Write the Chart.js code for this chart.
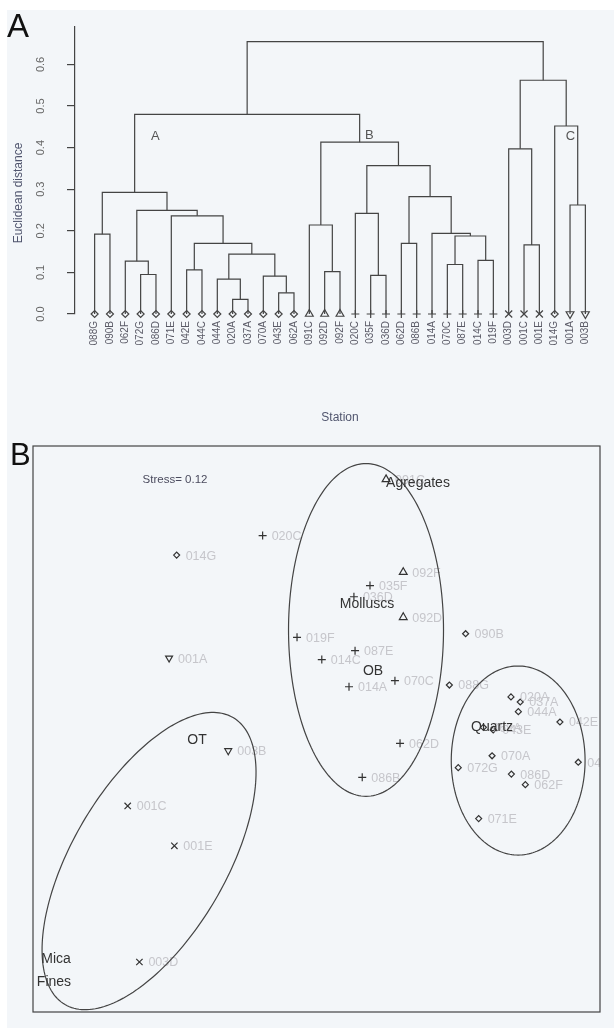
<!DOCTYPE html>
<html>
<head>
<meta charset="utf-8">
<script src="https://cdn.jsdelivr.net/npm/chart.js@4.4.0/dist/chart.umd.min.js"></script>
<style>
  html, body { margin: 0; padding: 0; background: #fff; width: 614px; height: 1028px; overflow: hidden; }
  #bg { position: absolute; left: 7px; top: 10px; width: 607px; height: 1018px; background: #f3f6f9; }
  .box { position: absolute; left: 0; width: 614px; }
  #boxA { top: 0; height: 434px; }
  #boxB { top: 420px; height: 608px; }
</style>
</head>
<body>
<div id="bg"></div>
<div class="box" id="boxA"><canvas id="dendro"></canvas></div>
<div class="box" id="boxB"><canvas id="nmds"></canvas></div>
<script>
Chart.defaults.font.family = "'Liberation Sans', Arial, sans-serif";
Chart.defaults.animation = false;

// --- dendrogram (panel A) ---
const leaves = ['088G', '090B', '062F', '072G', '086D', '071E', '042E', '044C', '044A', '020A', '037A', '070A', '043E', '062A',
  '091C', '092D', '092F', '020C', '035F', '036D', '062D', '086B', '014A', '070C', '087E', '014C', '019F',
  '003D', '001C', '001E', '014G', '001A', '003B'];
// d = diamond, t = triangle, p = plus, x = cross, v = down triangle
const leafShape = ['d', 'd', 'd', 'd', 'd', 'd', 'd', 'd', 'd', 'd', 'd', 'd', 'd', 'd',
  't', 't', 't', 'p', 'p', 'p', 'p', 'p', 'p', 'p', 'p', 'p', 'p',
  'x', 'x', 'x', 'd', 'v', 'v'];
// hclust style: negative = leaf (1-based position), positive = earlier merge
const merges = [
  [-1, -2, 0.192], [-4, -5, 0.095], [-3, 2, 0.127], [-7, -8, 0.106], [-10, -11, 0.035],
  [-9, 5, 0.084], [-13, -14, 0.051], [-12, 7, 0.091], [6, 8, 0.144], [4, 9, 0.170],
  [-6, 10, 0.236], [3, 11, 0.249], [1, 12, 0.2925], [-16, -17, 0.102], [-15, 14, 0.214],
  [-19, -20, 0.093], [-18, 16, 0.242], [-21, -22, 0.170], [-24, -25, 0.119], [-26, -27, 0.129],
  [19, 20, 0.1875], [-23, 21, 0.194], [18, 22, 0.282], [17, 23, 0.3565], [15, 24, 0.413],
  [13, 25, 0.480], [-29, -30, 0.166], [-28, 27, 0.397], [-32, -33, 0.262], [-31, 29, 0.452],
  [28, 30, 0.562], [26, 31, 0.655]
];
const yTicks = [0, 0.1, 0.2, 0.3, 0.4, 0.5, 0.6];
const clusterNames = ['A', 'B', 'C'];
const clusterX = [4.96, 18.92, 32.03];
const clusterY = [0.428, 0.430, 0.428];

// --- NMDS (panel B) ---
const stations = ['091C', '092F', '092D', '020C', '035F', '036D', '019F', '087E', '014C', '014A', '070C', '062D', '086B',
  '014G', '090B', '088G', '020A', '037A', '044A', '042E', '062A', '043E', '070A', '072G', '086D', '062F', '071E', '044C',
  '001A', '003B', '001C', '001E', '003D'];
const nmds1 = [0.368, 0.459, 0.459, -0.285, 0.283, 0.198, -0.103, 0.204, 0.028, 0.172, 0.415, 0.442, 0.242,
  -0.740, 0.789, 0.703, 1.029, 1.078, 1.068, 1.288, 0.883, 0.935, 0.929, 0.750, 1.031, 1.105, 0.858, 1.385,
  -0.780, -0.467, -0.999, -0.752, -0.937];
const nmds2 = [1.323, 0.831, 0.592, 1.025, 0.760, 0.701, 0.486, 0.415, 0.368, 0.224, 0.256, -0.076, -0.256,
  0.922, 0.505, 0.233, 0.170, 0.143, 0.092, 0.037, 0.009, -0.005, -0.142, -0.205, -0.239, -0.295, -0.475, -0.176,
  0.376, -0.115, -0.408, -0.619, -1.235];
const groupNames = ['Agregates', 'Molluscs', 'OB', 'Quartz', 'OT', 'Mica', 'Fines'];
const groupX = [0.537, 0.267, 0.299, 0.929, -0.632, -1.378, -1.389];
const groupY = [1.304, 0.663, 0.307, 0.011, -0.058, -1.219, -1.341];
const ellipseCx = [0.262, 1.067, -0.886];
const ellipseCy = [0.525, -0.167, -0.700];
const ellipseRx = [0.410, 0.354, 0.881];
const ellipseRy = [0.882, 0.501, 0.406];
const ellipseAngle = [0, 0, 59.7];
const stressText = 'Stress= 0.12';

const styleOf = { d: 'rectRot', t: 'triangle', p: 'cross', x: 'crossRot', v: 'triangle' };
const rotOf = { d: 0, t: 0, p: 0, x: 0, v: 180 };
const sizeA = { d: 3.5, t: 4.5, p: 4, x: 5, v: 4.5 };
const sizeB = { d: 3, t: 4.5, p: 4, x: 4.5, v: 4 };

const lineCol = '#444';
const font = "'Liberation Sans', Arial, sans-serif";

// build dendrogram segments from the merge table
const nodeX = [], nodeH = [];
const segments = [];
function childPos(c) { return c < 0 ? [-c, 0] : [nodeX[c - 1], nodeH[c - 1]]; }
merges.forEach(([a, b, h], k) => {
  const [xa, ha] = childPos(a);
  const [xb, hb] = childPos(b);
  nodeX[k] = (xa + xb) / 2;
  nodeH[k] = h;
  segments.push([{ x: xa, y: ha }, { x: xa, y: h }, { x: xb, y: h }, { x: xb, y: hb }]);
});

const dendroSets = segments.map(seg => ({
  data: seg, showLine: true, borderColor: lineCol, borderWidth: 1.2,
  pointRadius: 0, fill: false, clip: false
}));
dendroSets.push({
  data: leaves.map((_, i) => ({ x: i + 1, y: 0 })),
  pointStyle: leafShape.map(s => styleOf[s]),
  rotation: leafShape.map(s => rotOf[s]),
  pointRadius: leafShape.map(s => sizeA[s]),
  borderColor: lineCol, backgroundColor: 'rgba(0,0,0,0)', borderWidth: 1.2,
  showLine: false, clip: false
});

const dendroText = {
  id: 'dendroText',
  afterDraw(chart) {
    const ctx = chart.ctx, y = chart.scales.y, x = chart.scales.x;
    ctx.save();
    // y tick labels, parallel to the axis
    ctx.fillStyle = '#666';
    ctx.font = '11px ' + font;
    ctx.textAlign = 'center';
    ctx.textBaseline = 'middle';
    yTicks.forEach(v => {
      ctx.save();
      ctx.translate(41, y.getPixelForValue(v));
      ctx.rotate(-Math.PI / 2);
      ctx.fillText(v.toFixed(1), 0, 0);
      ctx.restore();
    });
    // axis titles
    ctx.fillStyle = '#50556e';
    ctx.font = '12px ' + font;
    ctx.save();
    ctx.translate(19, 193);
    ctx.rotate(-Math.PI / 2);
    ctx.fillText('Euclidean distance', 0, 0);
    ctx.restore();
    ctx.fillText('Station', (chart.chartArea.left + chart.chartArea.right) / 2, 418);
    // cluster letters
    ctx.fillStyle = '#555';
    ctx.font = '13px ' + font;
    clusterNames.forEach((n, i) => {
      ctx.fillText(n, x.getPixelForValue(clusterX[i]), y.getPixelForValue(clusterY[i]));
    });
    // panel letter
    ctx.fillStyle = '#111';
    ctx.font = '33px ' + font;
    ctx.textAlign = 'left';
    ctx.textBaseline = 'alphabetic';
    ctx.fillText('A', 7, 37);
    ctx.restore();
  }
};

new Chart(document.getElementById('dendro'), {
  type: 'scatter',
  data: { datasets: dendroSets },
  options: {
    responsive: true, maintainAspectRatio: false,
    layout: { padding: { top: 27, right: 9, bottom: 0, left: 0 } },
    plugins: { legend: { display: false }, tooltip: { enabled: false } },
    scales: {
      x: {
        type: 'linear', min: -0.28, max: 34.28,
        afterBuildTicks: s => { s.ticks = leaves.map((_, i) => ({ value: i + 1 })); },
        afterFit: s => { s.height = 120; },
        grid: { display: false, drawTicks: false },
        border: { display: false },
        ticks: {
          autoSkip: false, minRotation: 90, maxRotation: 90, padding: 7,
          color: '#5a5a66', font: { size: 10 },
          callback: v => leaves[v - 1]
        }
      },
      y: {
        min: 0, max: 0.69,
        afterBuildTicks: s => { s.ticks = yTicks.map(v => ({ value: v })); },
        afterFit: s => { s.width = 75; },
        grid: { display: true, drawOnChartArea: false, drawTicks: true, tickLength: 8, color: lineCol, lineWidth: 1.2 },
        border: { display: true, color: lineCol, width: 1.2 },
        ticks: { display: false }
      }
    }
  },
  plugins: [dendroText]
});

// --- NMDS chart ---
const stShape = stations.map(s => leafShape[leaves.indexOf(s)]);

const nmdsDecor = {
  id: 'nmdsDecor',
  afterDatasetsDraw(chart) {
    const ctx = chart.ctx, xs = chart.scales.x, ys = chart.scales.y, a = chart.chartArea;
    ctx.save();
    ctx.beginPath();
    ctx.rect(a.left, a.top, a.right - a.left, a.bottom - a.top);
    ctx.clip();
    // station labels
    ctx.fillStyle = '#c6c6cb';
    ctx.font = '12.5px ' + font;
    ctx.textAlign = 'left';
    ctx.textBaseline = 'middle';
    stations.forEach((s, i) => {
      ctx.fillText(s, xs.getPixelForValue(nmds1[i]) + 9, ys.getPixelForValue(nmds2[i]) + 1);
    });
    // ellipses
    ctx.strokeStyle = '#444';
    ctx.lineWidth = 1.2;
    ellipseCx.forEach((cx, k) => {
      const ang = ellipseAngle[k] * Math.PI / 180;
      ctx.beginPath();
      for (let j = 0; j <= 200; j++) {
        const t = j / 200 * 2 * Math.PI;
        const dx = ellipseRx[k] * Math.cos(t), dy = ellipseRy[k] * Math.sin(t);
        const px = xs.getPixelForValue(cx + dx * Math.cos(ang) - dy * Math.sin(ang));
        const py = ys.getPixelForValue(ellipseCy[k] + dx * Math.sin(ang) + dy * Math.cos(ang));
        if (j === 0) ctx.moveTo(px, py); else ctx.lineTo(px, py);
      }
      ctx.stroke();
    });
    // group labels
    ctx.fillStyle = '#333';
    ctx.font = '14px ' + font;
    ctx.textAlign = 'center';
    groupNames.forEach((g, i) => {
      ctx.fillText(g, xs.getPixelForValue(groupX[i]), ys.getPixelForValue(groupY[i]));
    });
    ctx.fillStyle = '#4b4b5e';
    ctx.font = '11.5px ' + font;
    ctx.fillText(stressText, 175, 60);
    ctx.restore();
    // frame
    ctx.save();
    ctx.strokeStyle = '#444';
    ctx.lineWidth = 1.2;
    ctx.strokeRect(a.left, a.top, a.right - a.left, a.bottom - a.top);
    ctx.fillStyle = '#111';
    ctx.font = '31px ' + font;
    ctx.textAlign = 'left';
    ctx.fillText('B', 10, 45);
    ctx.restore();
  }
};

new Chart(document.getElementById('nmds'), {
  type: 'scatter',
  data: {
    datasets: [{
      data: stations.map((_, i) => ({ x: nmds1[i], y: nmds2[i] })),
      pointStyle: stShape.map(s => styleOf[s]),
      rotation: stShape.map(s => rotOf[s]),
      pointRadius: stShape.map(s => sizeB[s]),
      borderColor: '#333', backgroundColor: 'rgba(0,0,0,0)', borderWidth: 1.2
    }]
  },
  options: {
    responsive: true, maintainAspectRatio: false,
    layout: { padding: { top: 26, right: 14, bottom: 16, left: 33 } },
    plugins: { legend: { display: false }, tooltip: { enabled: false } },
    scales: {
      x: { display: false, min: -1.5, max: 1.5 },
      y: { display: false, min: -1.5, max: 1.5 }
    }
  },
  plugins: [nmdsDecor]
});
</script>
</body>
</html>
